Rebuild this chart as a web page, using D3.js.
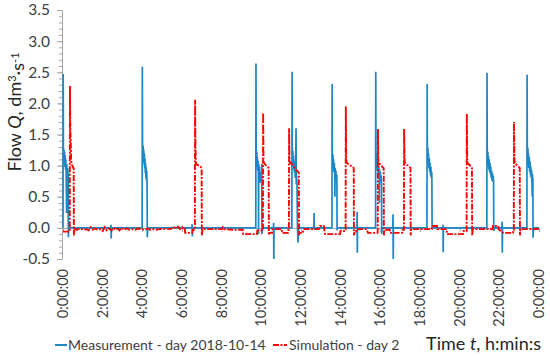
<!DOCTYPE html>
<html>
<head>
<meta charset="utf-8">
<script src="https://cdn.jsdelivr.net/npm/d3@7"></script>
<style>
body { margin: 0; background: #fff; }
text { font-family: Lato, "Open Sans", sans-serif; }
</style>
</head>
<body>
<div class="curr-graff"></div>
<script>
// time in hours, flow in dm3/s
const measData = [
    [0.00, 0.00], [0.01, 2.47], [0.02, 1.30], [0.04, 1.08], [0.05, 1.26], [0.07, 1.02], [0.08, 1.22], [0.10, 0.98],
    [0.11, 1.16], [0.13, 0.94], [0.14, 1.10], [0.16, 0.88], [0.18, 0.24], [0.19, 1.02], [0.21, 0.86], [0.23, 0.96],
    [0.26, 0.86], [0.27, -0.15], [0.29, 0.00],
    [2.41, 0.00], [2.42, 0.05], [2.43, -0.17], [2.44, 0.00],
    [3.99, 0.00], [4.00, 2.59], [4.01, 1.36], [4.03, 1.14], [4.04, 1.32], [4.06, 1.08], [4.07, 1.26], [4.09, 1.02],
    [4.10, 1.20], [4.12, 0.96], [4.13, 1.12], [4.15, 0.88], [4.16, 1.04], [4.18, 0.80], [4.19, 0.98], [4.21, 0.76],
    [4.22, 0.92], [4.24, 0.68], [4.25, -0.15], [4.27, 0.00],
    [6.50, 0.00], [6.51, 0.06], [6.52, -0.14], [6.53, 0.00],
    [9.72, 0.00], [9.73, 2.64], [9.74, 1.28], [9.76, 1.06], [9.77, 1.22], [9.79, 0.98], [9.80, 1.14], [9.82, 0.92],
    [9.84, 1.08], [9.85, 0.86], [9.86, -0.10], [9.87, 1.02], [9.89, 0.82], [9.90, 0.98], [9.92, 0.76], [9.94, 0.90],
    [9.96, 0.72], [9.98, 0.84], [10.00, 0.74], [10.02, 1.03], [10.03, -0.10], [10.05, 0.00],
    [10.61, 0.00], [10.62, 0.08], [10.63, -0.50], [10.64, 0.00],
    [11.54, 0.00], [11.55, 2.51], [11.56, 1.30], [11.58, 1.06], [11.59, 1.24], [11.61, 1.00], [11.62, 1.16], [11.64, 0.94],
    [11.65, 1.08], [11.67, 0.88], [11.69, 1.02], [11.71, 0.80], [11.73, 0.94], [11.75, 1.60], [11.76, 0.70], [11.78, 0.84],
    [11.80, 0.66], [11.82, 0.02], [11.85, -0.24], [11.87, 0.00],
    [12.65, 0.00], [12.66, 0.24], [12.67, -0.03], [12.68, 0.00],
    [13.56, 0.00], [13.57, 2.31], [13.58, 1.22], [13.60, 1.02], [13.61, 1.18], [13.63, 0.96], [13.64, 1.10], [13.66, 0.90],
    [13.68, 1.04], [13.70, 0.86], [13.71, 0.50], [13.72, 0.96], [13.74, 0.80], [13.76, 0.92], [13.78, 0.76], [13.80, 0.86],
    [13.81, 0.78], [13.82, -0.04], [13.84, 0.00],
    [14.82, 0.00], [14.83, 0.26], [14.84, -0.40], [14.85, 0.00],
    [15.76, 0.00], [15.77, 2.51], [15.78, 1.24], [15.80, 1.02], [15.81, 1.18], [15.83, 0.96], [15.84, 1.12], [15.86, 0.92],
    [15.88, 1.06], [15.90, 0.86], [15.92, 1.00], [15.94, 0.82], [15.95, 0.40], [15.96, 0.94], [15.98, 0.76], [16.00, 0.90],
    [16.02, 0.72], [16.04, 0.84], [16.06, 0.70], [16.07, -0.10], [16.09, 0.00],
    [16.63, 0.00], [16.64, 0.22], [16.65, -0.50], [16.66, 0.00],
    [18.35, 0.00], [18.36, 2.31], [18.37, 1.32], [18.39, 1.10], [18.40, 1.28], [18.42, 1.02], [18.43, 1.20], [18.45, 0.96],
    [18.47, 1.12], [18.49, 0.90], [18.51, 1.04], [18.53, 0.84], [18.55, 0.98], [18.57, 0.80], [18.59, 0.90], [18.60, 0.78],
    [18.61, 0.00],
    [19.15, 0.00], [19.16, 0.05], [19.17, -0.39], [19.18, 0.00],
    [21.37, 0.00], [21.38, 2.49], [21.39, 1.28], [21.41, 1.06], [21.42, 1.22], [21.44, 1.00], [21.45, 1.16], [21.47, 0.94],
    [21.49, 1.10], [21.51, 0.90], [21.53, 1.04], [21.55, 0.86], [21.57, 0.98], [21.59, 0.80], [21.61, 0.92], [21.63, 0.76],
    [21.65, 0.88], [21.67, 0.74], [21.69, 0.84], [21.71, 0.74], [21.72, -0.05], [21.74, 0.00],
    [22.13, 0.00], [22.14, 0.10], [22.15, -0.40], [22.16, 0.00],
    [23.39, 0.00], [23.40, 2.46], [23.41, 1.32], [23.43, 1.08], [23.44, 1.28], [23.46, 1.02], [23.47, 1.20], [23.49, 0.96],
    [23.51, 1.14], [23.53, 0.90], [23.55, 1.06], [23.57, 0.84], [23.59, 0.98], [23.61, 0.80], [23.63, 0.92], [23.64, 0.78],
    [23.66, 0.50], [23.67, 0.86], [23.69, 0.76], [23.70, -0.16], [23.72, 0.00], [24.00, 0.00]
];

const simData = [
    [0.00, -0.06], [0.34, -0.06], [0.35, 2.28], [0.37, 1.55], [0.39, 1.40], [0.41, 1.10], [0.43, 1.02], [0.50, 0.98],
    [0.54, 0.95], [0.55, -0.12], [0.58, -0.02],
    [0.70, -0.03], [0.85, -0.01], [1.00, -0.03], [1.15, -0.02], [1.30, -0.04], [1.40, 0.01], [1.50, -0.03], [1.60, -0.01],
    [1.75, -0.03], [1.90, -0.02], [2.00, -0.05], [2.10, 0.01], [2.20, -0.04], [2.30, -0.01], [2.45, -0.04], [2.55, 0.00],
    [2.65, -0.03], [2.75, -0.01], [2.85, -0.04], [2.95, 0.00], [3.05, -0.03], [3.20, -0.01], [3.35, -0.03], [3.50, -0.02],
    [3.65, -0.03], [3.80, -0.01], [3.95, -0.02], [4.10, -0.03], [4.25, -0.01], [4.40, -0.03], [4.55, -0.02], [4.70, -0.03],
    [4.85, -0.02], [5.00, -0.02], [5.20, -0.01], [5.40, -0.02], [5.60, 0.01], [5.70, -0.01], [5.80, 0.02], [5.90, -0.02],
    [6.00, 0.01], [6.10, -0.03], [6.14, -0.02], [6.16, -0.08], [6.52, -0.08], [6.54, -0.03], [6.65, -0.03],
    [6.66, 2.06], [6.68, 1.30], [6.70, 1.05], [6.72, 1.02], [6.85, 1.00], [6.95, 0.98], [6.99, 0.95], [7.00, -0.12],
    [7.03, -0.02], [7.50, -0.02], [8.00, -0.02], [8.05, 0.01], [8.12, -0.02], [8.60, -0.03], [9.06, -0.03],
    [9.08, -0.10], [9.78, -0.10], [9.80, -0.04], [10.08, -0.04],
    [10.09, 1.85], [10.11, 1.10], [10.13, 1.04], [10.25, 1.00], [10.33, 0.98], [10.37, 0.96], [10.38, -0.12], [10.40, -0.08],
    [10.54, -0.08], [10.56, -0.02], [11.03, -0.02], [11.04, -0.08], [11.35, -0.08], [11.37, -0.03], [11.39, -0.03],
    [11.40, 1.60], [11.42, 1.10], [11.44, 1.05], [11.55, 1.02], [11.70, 0.95], [11.85, 0.90], [11.89, 0.88], [11.90, -0.12],
    [11.92, -0.08], [12.10, -0.08], [12.12, -0.02], [12.90, -0.02], [12.96, 0.03], [13.15, 0.03], [13.17, -0.02],
    [13.21, -0.10], [13.97, -0.10], [13.99, -0.05], [14.17, -0.05], [14.19, -0.02], [14.25, -0.02],
    [14.26, 1.95], [14.28, 1.10], [14.30, 1.05], [14.40, 1.02], [14.50, 1.00], [14.60, 0.98], [14.66, 0.96], [14.67, -0.12],
    [14.70, -0.08], [14.78, -0.08], [14.80, -0.02], [15.30, -0.02], [15.38, -0.08], [15.86, -0.08], [15.87, -0.03],
    [15.88, 1.59], [15.90, 1.08], [15.92, 1.04], [16.00, 1.02], [16.10, 0.98], [16.17, 0.96], [16.18, -0.12], [16.21, -0.03],
    [16.47, -0.03], [16.49, -0.08], [17.10, -0.08], [17.12, -0.03], [17.19, -0.03],
    [17.20, 1.59], [17.22, 1.10], [17.24, 1.04], [17.35, 1.01], [17.45, 0.99], [17.52, 0.96], [17.53, -0.12], [17.56, -0.02],
    [18.59, -0.02], [18.61, 0.03], [18.86, 0.03], [18.88, -0.02], [19.34, -0.02], [19.36, -0.10], [20.17, -0.10],
    [20.19, -0.05], [20.35, -0.05],
    [20.36, 1.83], [20.38, 1.10], [20.40, 1.04], [20.50, 1.01], [20.58, 0.98], [20.62, 0.96], [20.63, -0.12], [20.66, -0.02],
    [21.66, -0.02], [21.68, 0.03], [21.94, 0.03], [21.96, -0.02], [22.19, -0.08], [22.69, -0.08], [22.71, -0.03], [22.73, -0.03],
    [22.74, 1.70], [22.76, 1.10], [22.78, 1.04], [22.88, 1.01], [22.98, 0.98], [23.03, 0.96], [23.04, -0.12], [23.07, -0.02],
    [24.00, -0.02]
];

const xTickHours = [0, 2, 4, 6, 8, 10, 12, 14, 16, 18, 20, 22, 24];
const xTickLabels = ["0:00:00", "2:00:00", "4:00:00", "6:00:00", "8:00:00", "10:00:00", "12:00:00",
    "14:00:00", "16:00:00", "18:00:00", "20:00:00", "22:00:00", "0:00:00"];
const yTicks = [-0.5, 0, 0.5, 1, 1.5, 2, 2.5, 3, 3.5];
const yMinorTicks = d3.range(-5, 36).map(d => d / 10);
const seriesNames = ["Measurement - day 2018-10-14", "Simulation - day 2"];

const colMeas = "#1b87c5";
const colSim = "#ff0000";
const simDash = "6,1.5,2,1.5";

var svg = d3.select(".curr-graff")
    .append("svg")
    .attr("width", 550)
    .attr("height", 357);

var xScale = d3.scaleLinear()
    .domain([0, 24])
    .range([63, 539]);

var yScale = d3.scaleLinear()
    .domain([-0.5, 3.5])
    .range([259, 10]);

// y axis with minor ticks
var yMinor = svg.append("g")
    .attr("transform", "translate(62,0)")
    .call(d3.axisLeft(yScale).tickValues(yMinorTicks).tickSize(3).tickFormat(""));

var yAxis = svg.append("g")
    .attr("transform", "translate(62,0)")
    .call(d3.axisLeft(yScale).tickValues(yTicks).tickSize(5).tickPadding(7)
        .tickFormat(d => d.toFixed(1)));

// x axis crosses at zero, labels at the bottom
var xAxis = svg.append("g")
    .attr("transform", "translate(0," + yScale(0) + ")")
    .call(d3.axisBottom(xScale).tickValues(xTickHours).tickSize(4).tickFormat(""));

svg.selectAll(".domain").attr("stroke", "#a6a6a6").attr("stroke-width", 1);
svg.selectAll(".tick line").attr("stroke", "#a6a6a6");
yMinor.select(".domain").remove();
yAxis.selectAll("text")
    .style("font-size", "15.5px")
    .style("fill", "#404040");

svg.append("g")
    .selectAll("text")
    .data(xTickHours)
    .enter()
    .append("text")
    .attr("transform", d => "translate(" + xScale(d) + ",269) rotate(-90)")
    .attr("text-anchor", "end")
    .attr("dy", "0.35em")
    .style("font-size", "14.5px")
    .style("fill", "#404040")
    .text((d, i) => xTickLabels[i]);

var line = d3.line()
    .x(d => xScale(d[0]))
    .y(d => yScale(d[1]));

svg.append("path")
    .datum(measData)
    .attr("fill", "none")
    .attr("stroke", colMeas)
    .attr("stroke-width", 1.7)
    .attr("d", line);

svg.append("path")
    .datum(simData)
    .attr("fill", "none")
    .attr("stroke", colSim)
    .attr("stroke-width", 1.9)
    .attr("stroke-dasharray", simDash)
    .attr("d", line);

// y title
var yTitle = svg.append("text")
    .attr("transform", "translate(21,112) rotate(-90)")
    .attr("text-anchor", "middle")
    .style("font-size", "18px")
    .style("fill", "#262626");
yTitle.append("tspan").text("Flow ");
yTitle.append("tspan").style("font-style", "italic").text("Q");
yTitle.append("tspan").text(", dm");
yTitle.append("tspan").attr("dy", "-0.45em").style("font-size", "11px").text("3");
yTitle.append("tspan").attr("dy", "0.45em").text("·s");
yTitle.append("tspan").attr("dy", "-0.45em").style("font-size", "11px").text("-1");

// x title
var xTitle = svg.append("text")
    .attr("x", 541)
    .attr("y", 350)
    .attr("text-anchor", "end")
    .style("font-size", "18px")
    .style("fill", "#262626");
xTitle.append("tspan").text("Time ");
xTitle.append("tspan").style("font-style", "italic").text("t");
xTitle.append("tspan").text(", h:min:s");

// legend
var legend = svg.append("g");
legend.append("line")
    .attr("x1", 55).attr("x2", 67).attr("y1", 345).attr("y2", 345)
    .attr("stroke", colMeas).attr("stroke-width", 2);
legend.append("text")
    .attr("x", 68).attr("y", 350)
    .style("font-size", "14px")
    .style("fill", "#404040")
    .text(seriesNames[0]);
legend.append("line")
    .attr("x1", 273).attr("x2", 287).attr("y1", 345).attr("y2", 345)
    .attr("stroke", colSim).attr("stroke-width", 2)
    .attr("stroke-dasharray", simDash);
legend.append("text")
    .attr("x", 289).attr("y", 350)
    .style("font-size", "14px")
    .style("fill", "#404040")
    .text(seriesNames[1]);
</script>
</body>
</html>
